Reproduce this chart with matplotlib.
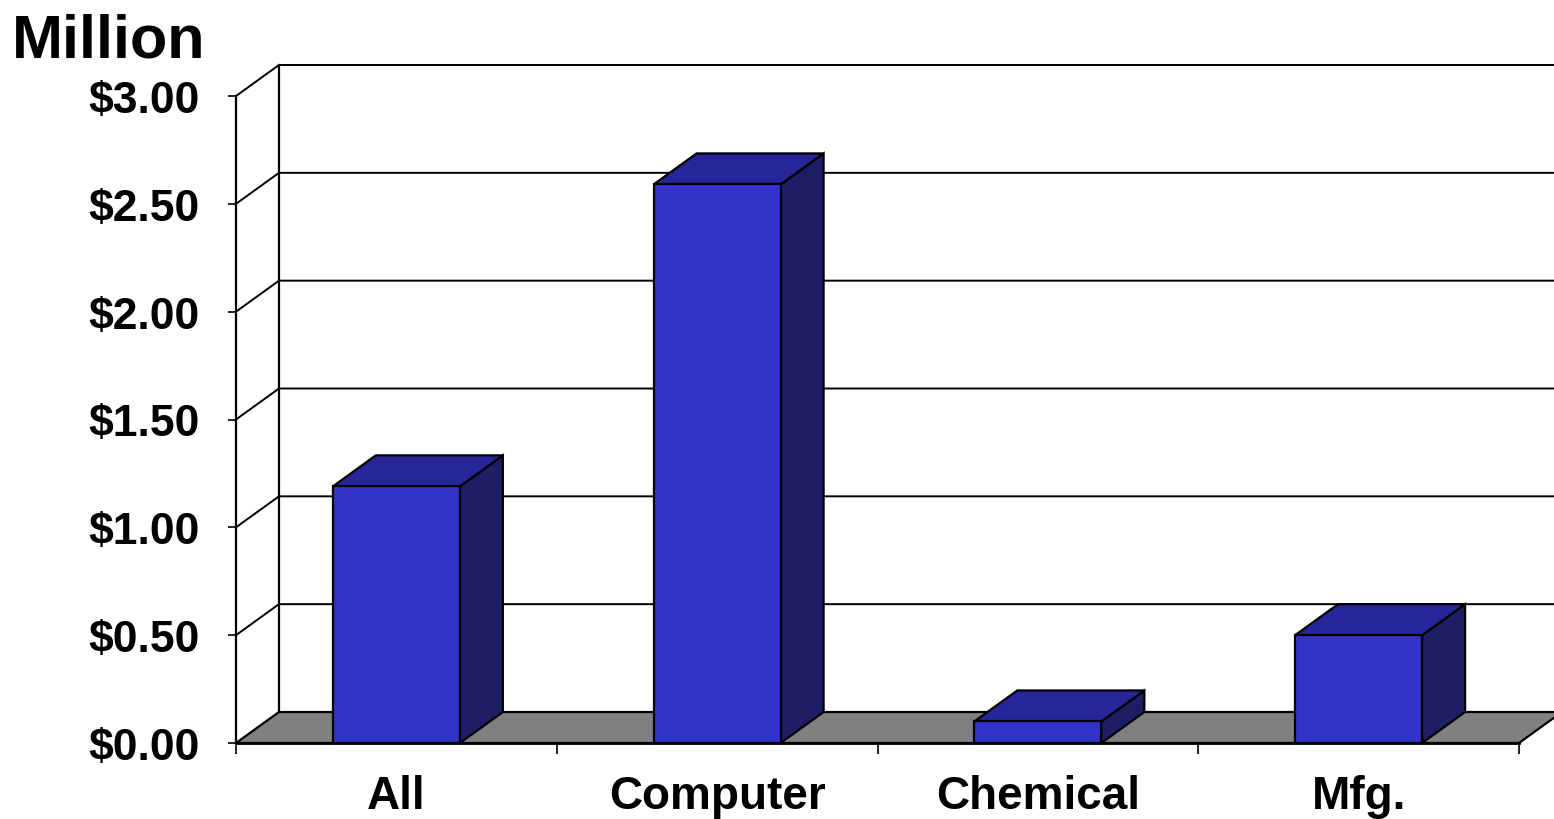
import numpy as np
import matplotlib.pyplot as plt
import matplotlib.patches as patch

plt.rcParams['font.family'] = ['Liberation Sans', 'DejaVu Sans']
plt.rcParams['font.weight'] = 'bold'

#### data
categories = ['All', 'Computer', 'Chemical', 'Mfg.']
values = [1.19, 2.59, 0.10, 0.50]
yticks = [0.0, 0.5, 1.0, 1.5, 2.0, 2.5, 3.0]
ytick_labels = ['$%.2f' % v for v in yticks]

#### colours of the 3d boxes
front_col = '#3333CC'
top_col = '#26269A'
side_col = '#1E1E66'
floor_col = '#808080'

fig = plt.figure(figsize=(15.54, 8.2), dpi=100)
# front plot area (pixel box 236..1519 x 97..744)
ax = fig.add_axes([236/1554, 76/820, 1283/1554, 647/820])
ax.set_xlim(0, 4)
ax.set_ylim(0, 3)

# depth of the fake 3d, in data units
dx = 43/321
dy = 31/215.7
n = len(categories)

# floor
floor = patch.Polygon([[0, 0], [dx, dy], [n+dx, dy], [n, 0]], closed=True,
                      facecolor=floor_col, edgecolor='black', lw=1.6,
                      clip_on=False, zorder=1)
ax.add_patch(floor)

# back wall + side wall gridlines
for v in yticks[1:]:
    ax.plot([0, dx, n+dx], [v, v+dy, v+dy], color='black', lw=1.4,
            clip_on=False, zorder=2)
ax.plot([dx, dx], [dy, yticks[-1]+dy], color='black', lw=1.6,
        clip_on=False, zorder=2)

# bars
bw = 0.396
for i, h in enumerate(values):
    x0 = i + 0.5 - bw/2
    x1 = x0 + bw
    side = patch.Polygon([[x1, 0], [x1+dx, dy], [x1+dx, h+dy], [x1, h]],
                         facecolor=side_col, edgecolor='black', lw=1.6,
                         clip_on=False, zorder=3)
    top = patch.Polygon([[x0, h], [x0+dx, h+dy], [x1+dx, h+dy], [x1, h]],
                        facecolor=top_col, edgecolor='black', lw=1.6,
                        clip_on=False, zorder=3)
    front = patch.Rectangle((x0, 0), bw, h, facecolor=front_col,
                            edgecolor='black', lw=1.6, clip_on=False, zorder=4)
    ax.add_patch(side)
    ax.add_patch(top)
    ax.add_patch(front)

#### axes, ticks and labels
for s in ['top', 'right']:
    ax.spines[s].set_visible(False)
ax.spines['left'].set_linewidth(1.6)
ax.spines['bottom'].set_linewidth(2)
ax.spines['bottom'].set_zorder(5)

ax.set_yticks(yticks)
ax.set_yticklabels(ytick_labels, fontsize=32, fontweight='bold')
ax.tick_params(axis='y', length=6, width=1.2, pad=20)

ax.set_xticks(np.arange(n+1))
ax.set_xticklabels([])
ax.tick_params(axis='x', which='major', length=8, width=1.2)
ax.set_xticks(np.arange(n) + 0.5, minor=True)
ax.set_xticklabels(categories, minor=True, fontsize=33, fontweight='bold')
ax.tick_params(axis='x', which='minor', length=0, pad=22)

fig.text(12/1554, 1 - 57/820, 'Million', fontsize=44, fontweight='bold',
         ha='left', va='baseline')

fig.savefig('out.png', dpi=100)
